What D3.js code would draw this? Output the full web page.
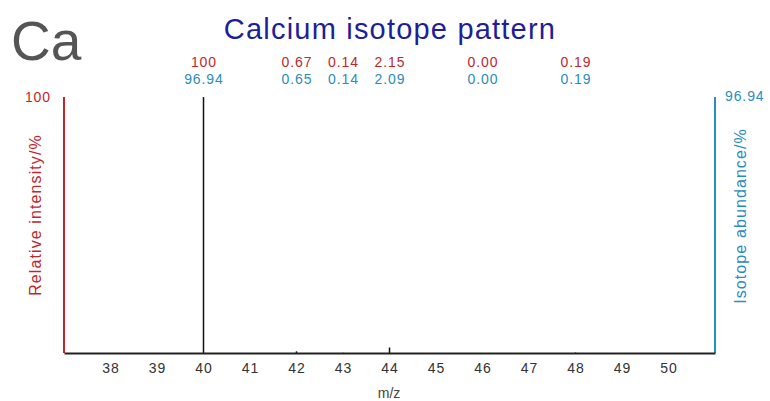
<!DOCTYPE html>
<html>
<head>
<meta charset="utf-8">
<script src="https://cdn.jsdelivr.net/npm/d3@7"></script>
<style>
  html, body { margin: 0; padding: 0; background: #fff; }
  svg { display: block; font-family: "Liberation Sans", Arial, Helvetica, sans-serif; }
</style>
</head>
<body>
<svg id="chart" width="770" height="401"></svg>
<script>
// Calcium isotopes: mass number, relative intensity (%), natural abundance (%)
const masses = [40, 42, 43, 44, 46, 48];
const intensity = [100, 0.67, 0.14, 2.15, 0.00, 0.19];
const abundance = [96.94, 0.65, 0.14, 2.09, 0.00, 0.19];
const intensityLabels = ["100", "0.67", "0.14", "2.15", "0.00", "0.19"];
const abundanceLabels = ["96.94", "0.65", "0.14", "2.09", "0.00", "0.19"];
const xTicks = [38, 39, 40, 41, 42, 43, 44, 45, 46, 47, 48, 49, 50];

const red = "#c0272d";
const blue = "#2b8cbe";
const smallFont = 14, smallSpacing = 0.9;

const svg = d3.select("#chart");
const plotLeft = 64, plotRight = 715, plotTop = 97, plotBottom = 353;

const x = d3.scaleLinear().domain([37, 51]).range([plotLeft, plotRight]);
const y = d3.scaleLinear().domain([0, 100]).range([plotBottom, plotTop]);
const yAb = d3.scaleLinear().domain([0, 96.94]).range([plotBottom, plotTop]);

// Element symbol and title
svg.append("text").attr("x", 11).attr("y", 60)
  .attr("font-size", 55).attr("fill", "#555").text("Ca");
svg.append("text").attr("x", 390).attr("y", 39)
  .attr("text-anchor", "middle").attr("font-size", 29).attr("fill", "#1e1e98")
  .attr("letter-spacing", 1.2)
  .text("Calcium isotope pattern");

// Peak sticks
svg.append("g").selectAll("line").data(masses).join("line")
  .attr("x1", d => x(d)).attr("x2", d => x(d))
  .attr("y1", plotBottom).attr("y2", (d, i) => y(intensity[i]))
  .attr("stroke", "#111").attr("stroke-width", 1.5);

// Value labels above the plot
svg.append("g").selectAll("text").data(masses).join("text")
  .attr("x", d => x(d) + smallSpacing / 2).attr("y", 67)
  .attr("text-anchor", "middle").attr("font-size", smallFont)
  .attr("letter-spacing", smallSpacing).attr("fill", red)
  .text((d, i) => intensityLabels[i]);
svg.append("g").selectAll("text").data(masses).join("text")
  .attr("x", d => x(d) + smallSpacing / 2).attr("y", 84)
  .attr("text-anchor", "middle").attr("font-size", smallFont)
  .attr("letter-spacing", smallSpacing).attr("fill", blue)
  .text((d, i) => abundanceLabels[i]);

// Left axis (relative intensity)
svg.append("line").attr("x1", plotLeft).attr("x2", plotLeft)
  .attr("y1", y(100)).attr("y2", plotBottom)
  .attr("stroke", red).attr("stroke-width", 2);
svg.append("text").attr("x", 51).attr("y", y(100) + 5)
  .attr("text-anchor", "end").attr("font-size", smallFont)
  .attr("letter-spacing", smallSpacing).attr("fill", red).text("100");
svg.append("text")
  .attr("transform", "translate(41,215) rotate(-90)")
  .attr("text-anchor", "middle").attr("font-size", 16)
  .attr("letter-spacing", 1.1).attr("fill", red)
  .text("Relative intensity/%");

// Right axis (isotope abundance)
svg.append("line").attr("x1", plotRight).attr("x2", plotRight)
  .attr("y1", yAb(96.94)).attr("y2", plotBottom)
  .attr("stroke", blue).attr("stroke-width", 2);
svg.append("text").attr("x", 725).attr("y", yAb(96.94) + 4)
  .attr("font-size", smallFont).attr("letter-spacing", smallSpacing)
  .attr("fill", blue).text("96.94");
svg.append("text")
  .attr("transform", "translate(746,216) rotate(-90)")
  .attr("text-anchor", "middle").attr("font-size", 16)
  .attr("letter-spacing", 1.1).attr("fill", blue)
  .text("Isotope abundance/%");

// Bottom m/z axis
const xAxis = d3.axisBottom(x).tickValues(xTicks).tickSize(0).tickPadding(10)
  .tickFormat(d3.format("d"));
const gx = svg.append("g").attr("transform", `translate(0,${plotBottom})`).call(xAxis);
gx.select(".domain").attr("stroke", "#222").attr("stroke-width", 2);
gx.selectAll("text").attr("font-size", smallFont).attr("fill", "#333")
  .attr("letter-spacing", smallSpacing)
  .attr("font-family", "Liberation Sans, Arial, sans-serif");
svg.append("text").attr("x", 389).attr("y", 398)
  .attr("text-anchor", "middle").attr("font-size", 14).attr("fill", "#444").text("m/z");
</script>
</body>
</html>
